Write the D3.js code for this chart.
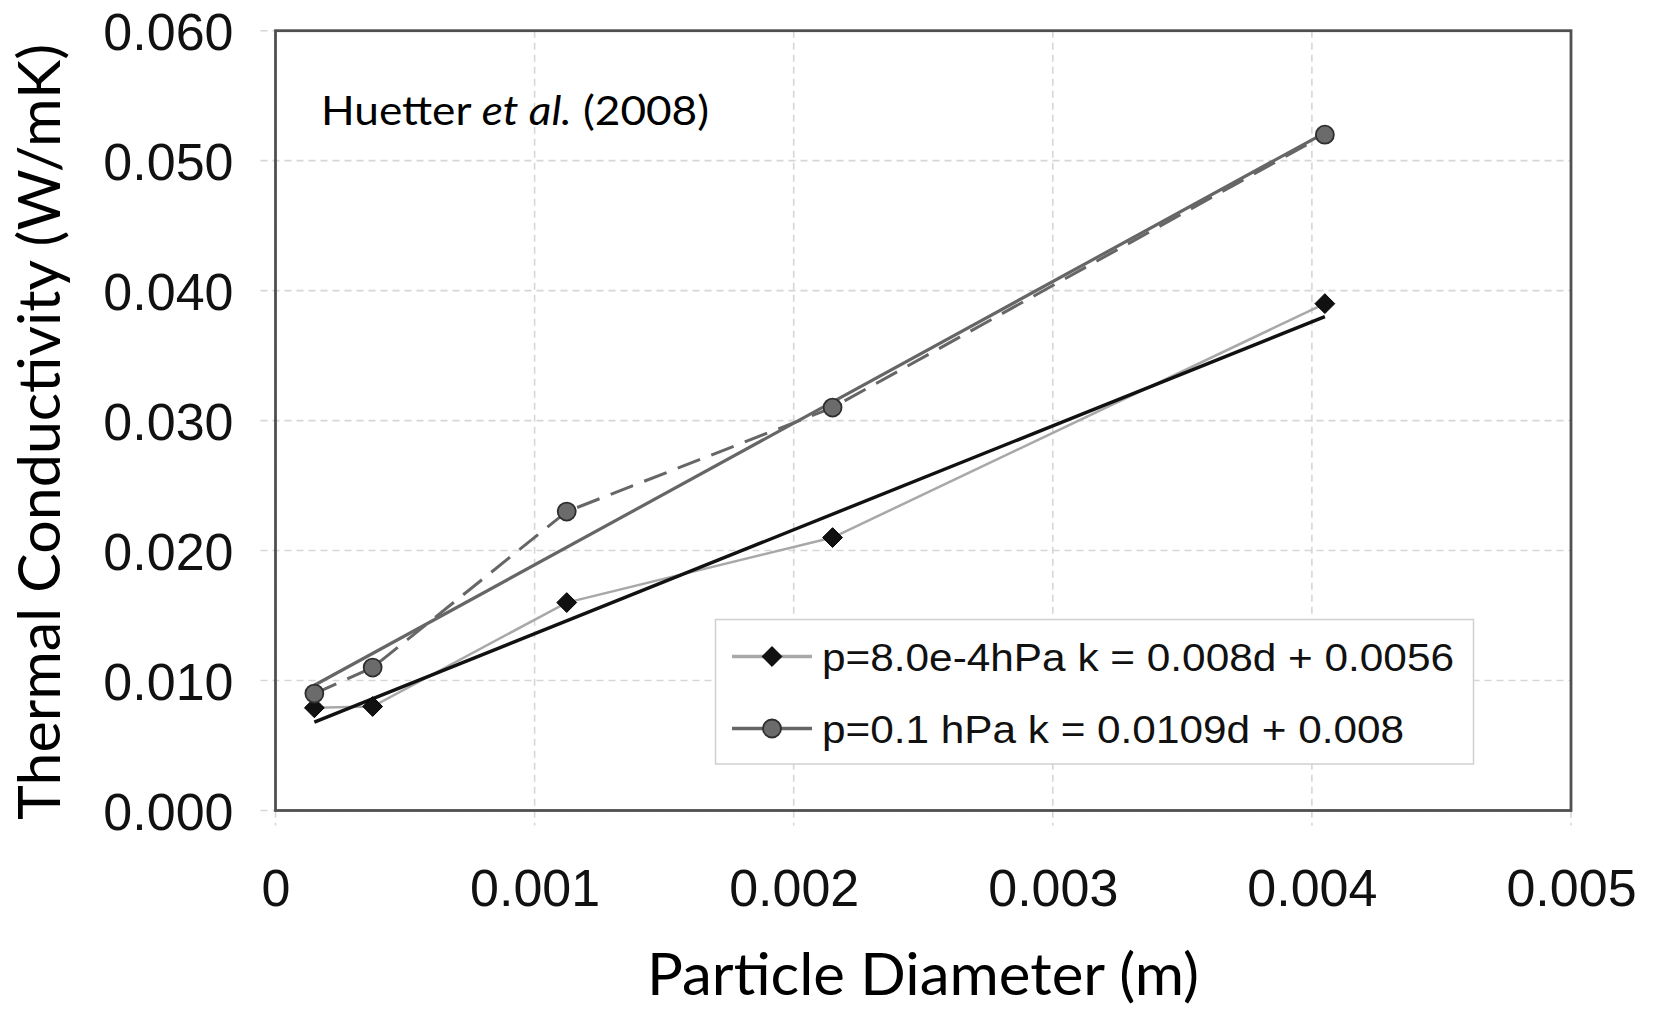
<!DOCTYPE html>
<html>
<head>
<meta charset="utf-8">
<script src="https://cdn.jsdelivr.net/npm/d3@7"></script>
<style>
  html, body { margin: 0; padding: 0; background: #fff; }
  svg { display: block; }
</style>
</head>
<body>
<svg id="chart" width="1655" height="1010"></svg>
<script>
// Particle diameter (m) of each sample
const diameters = [0.00015, 0.000375, 0.001124, 0.00215, 0.00405];
// Measured thermal conductivity (W/mK) at p = 8.0e-4 hPa
const kLowPressure = [0.0079, 0.008, 0.016, 0.021, 0.039];
// Measured thermal conductivity (W/mK) at p = 0.1 hPa
const kHighPressure = [0.009, 0.011, 0.023, 0.031, 0.052];

// Linear fits k = slope * d + intercept, as given in the legend
const fitSlopes = [8, 10.9];
const fitIntercepts = [0.0056, 0.008];

const legendLabels = [
  "p=8.0e-4hPa k = 0.008d + 0.0056",
  "p=0.1 hPa k = 0.0109d + 0.008"
];
const xTicks = [0, 0.001, 0.002, 0.003, 0.004, 0.005];
const yTicks = [0, 0.01, 0.02, 0.03, 0.04, 0.05, 0.06];

const svg = d3.select("#chart");
const plot = { left: 275.5, right: 1571, top: 30.7, bottom: 810.5 };

const x = d3.scaleLinear().domain([0, 0.005]).range([plot.left, plot.right]);
const y = d3.scaleLinear().domain([0, 0.06]).range([plot.bottom, plot.top]);

const tickFont = "'Liberation Sans', Arial, Helvetica, sans-serif";
const titleFont = "Lato, 'Open Sans', sans-serif";

// Dashed grid, each line poking slightly past the frame
const grid = svg.append("g").attr("class", "grid");
grid.selectAll("line.h").data(yTicks).join("line")
  .attr("class", "h")
  .attr("x1", plot.left - 15).attr("x2", plot.right)
  .attr("y1", d => y(d)).attr("y2", d => y(d))
  .attr("stroke", "#d6d6d6").attr("stroke-width", 1.6)
  .attr("stroke-dasharray", "7,5");
grid.selectAll("line.v").data(xTicks).join("line")
  .attr("class", "v")
  .attr("y1", plot.top).attr("y2", plot.bottom + 15)
  .attr("x1", d => x(d)).attr("x2", d => x(d))
  .attr("stroke", "#d6d6d6").attr("stroke-width", 1.6)
  .attr("stroke-dasharray", "7,5");

// Tick labels via D3 axes
const yAxis = svg.append("g")
  .attr("transform", `translate(${plot.left},0)`)
  .call(d3.axisLeft(y).tickValues(yTicks).tickFormat(d3.format(".3f")).tickSize(0).tickPadding(42));
yAxis.select(".domain").remove();
yAxis.selectAll("text")
  .attr("dy", null).attr("y", 18.6)
  .attr("font-family", tickFont).attr("font-size", 52).attr("fill", "#111");

const xAxis = svg.append("g")
  .attr("transform", `translate(0,${plot.bottom})`)
  .call(d3.axisBottom(x).tickValues(xTicks)
    .tickFormat(d => d === 0 ? "0" : d3.format(".3f")(d)).tickSize(0));
xAxis.select(".domain").remove();
xAxis.selectAll("text")
  .attr("dy", null).attr("y", 95)
  .attr("font-family", tickFont).attr("font-size", 52).attr("fill", "#111");

// Data series
const lowPts = diameters.map((d, i) => [d, kLowPressure[i]]);
const highPts = diameters.map((d, i) => [d, kHighPressure[i]]);
const line = d3.line().x(p => x(p[0])).y(p => y(p[1]));
const dExtent = d3.extent(diameters);
const fitPts = (s, b) => dExtent.map(d => [d, s * d + b]);

const series = svg.append("g");
// low-pressure measurements joined by a thin light line
series.append("path").datum(lowPts)
  .attr("d", line).attr("fill", "none")
  .attr("stroke", "#a8a8a8").attr("stroke-width", 2.5);
// high-pressure measurements joined by a dashed line
series.append("path").datum(highPts)
  .attr("d", line).attr("fill", "none")
  .attr("stroke", "#666").attr("stroke-width", 3)
  .attr("stroke-dasharray", "24,12");
// linear fits
series.append("path").datum(fitPts(fitSlopes[0], fitIntercepts[0]))
  .attr("d", line).attr("fill", "none")
  .attr("stroke", "#111").attr("stroke-width", 3.4);
series.append("path").datum(fitPts(fitSlopes[1], fitIntercepts[1]))
  .attr("d", line).attr("fill", "none")
  .attr("stroke", "#666").attr("stroke-width", 3.2);

const diamond = d3.symbol().type(d3.symbolDiamond2).size(250);
series.selectAll("path.dia").data(lowPts).join("path")
  .attr("class", "dia")
  .attr("d", diamond)
  .attr("transform", p => `translate(${x(p[0])},${y(p[1])})`)
  .attr("fill", "#111").attr("stroke", "#000").attr("stroke-width", 1);
series.selectAll("circle.pt").data(highPts).join("circle")
  .attr("class", "pt")
  .attr("cx", p => x(p[0])).attr("cy", p => y(p[1])).attr("r", 9)
  .attr("fill", "#6b6b6b").attr("stroke", "#2e2e2e").attr("stroke-width", 1.8);

// Plot frame
svg.append("rect")
  .attr("x", plot.left).attr("y", plot.top)
  .attr("width", plot.right - plot.left).attr("height", plot.bottom - plot.top)
  .attr("fill", "none").attr("stroke", "#505050").attr("stroke-width", 2.8);

// Legend
const legend = svg.append("g");
legend.append("rect")
  .attr("x", 715.5).attr("y", 619.5).attr("width", 758).attr("height", 144.5)
  .attr("fill", "#fff").attr("stroke", "#d0d0d0").attr("stroke-width", 1.5);
const rowsY = [656.5, 728.5];
const rowLine = ["#a8a8a8", "#666"];
const textLens = [632, 582];
legendLabels.forEach((label, i) => {
  const g = legend.append("g");
  g.append("line")
    .attr("x1", 732).attr("x2", 812).attr("y1", rowsY[i]).attr("y2", rowsY[i])
    .attr("stroke", rowLine[i]).attr("stroke-width", 3.5);
  if (i === 0) {
    g.append("path").attr("d", diamond)
      .attr("transform", `translate(772,${rowsY[i]})`)
      .attr("fill", "#111").attr("stroke", "#000");
  } else {
    g.append("circle").attr("cx", 772).attr("cy", rowsY[i]).attr("r", 9)
      .attr("fill", "#6b6b6b").attr("stroke", "#2e2e2e").attr("stroke-width", 1.8);
  }
  g.append("text")
    .attr("x", 822).attr("y", rowsY[i] + 14.5)
    .attr("font-family", tickFont).attr("font-size", 38).attr("fill", "#111")
    .attr("textLength", textLens[i]).attr("lengthAdjust", "spacingAndGlyphs")
    .text(label);
});

// Source annotation
const note = svg.append("text")
  .attr("x", 321).attr("y", 125)
  .attr("font-family", titleFont).attr("font-size", 41).attr("fill", "#000")
  .attr("textLength", 388).attr("lengthAdjust", "spacingAndGlyphs");
note.append("tspan").text("Huetter ");
note.append("tspan").attr("font-style", "italic").text("et al.");
note.append("tspan").text(" (2008)");

// Axis titles
svg.append("text")
  .attr("x", 923).attr("y", 995)
  .attr("text-anchor", "middle")
  .attr("font-family", titleFont).attr("font-size", 58).attr("fill", "#000")
  .attr("textLength", 552).attr("lengthAdjust", "spacingAndGlyphs")
  .text("Particle Diameter (m)");

svg.append("text")
  .attr("transform", "translate(60,432) rotate(-90)")
  .attr("text-anchor", "middle")
  .attr("font-family", titleFont).attr("font-size", 58).attr("fill", "#000")
  .attr("textLength", 776).attr("lengthAdjust", "spacingAndGlyphs")
  .text("Thermal Conductivity (W/mK)");
</script>
</body>
</html>
